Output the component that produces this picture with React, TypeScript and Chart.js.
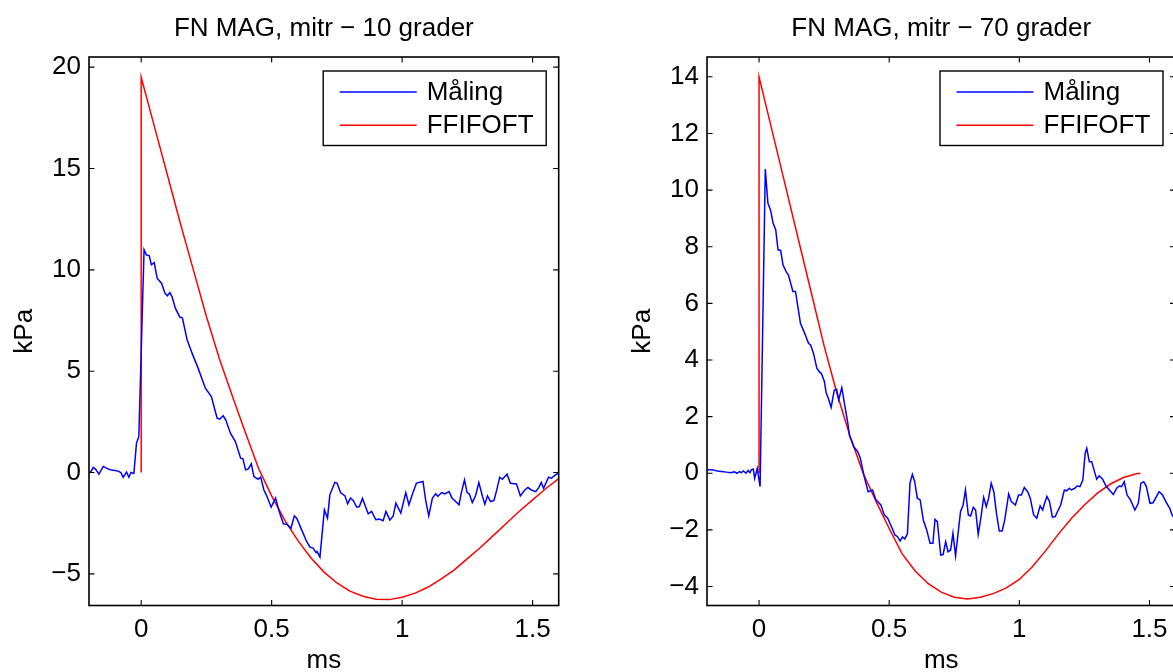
import React, { useEffect, useRef } from 'react';
import Chart from 'chart.js/auto';

const FONT = '"Liberation Sans", Arial, Helvetica, sans-serif';

// ---- 10 grader (left panel) ----
const meas10X = [
  -0.2, -0.19, -0.184, -0.175, -0.162, -0.145, -0.126, -0.114, -0.1, -0.088, -0.078, -0.069, -0.056, -0.047,
  -0.039, -0.028, -0.018, -0.009, 0.011, 0.02, 0.031, 0.039, 0.05, 0.061, 0.078, 0.091, 0.1, 0.11, 0.118,
  0.131, 0.148, 0.158, 0.176, 0.195, 0.218, 0.246, 0.269, 0.291, 0.301, 0.314, 0.324, 0.342, 0.361, 0.381,
  0.39, 0.4, 0.41, 0.422, 0.432, 0.448, 0.458, 0.47, 0.481, 0.498, 0.515, 0.529, 0.545, 0.56, 0.574, 0.587,
  0.596, 0.615, 0.634, 0.647, 0.659, 0.67, 0.674, 0.685, 0.702, 0.714, 0.723, 0.742, 0.751, 0.764, 0.781,
  0.791, 0.802, 0.813, 0.826, 0.836, 0.848, 0.87, 0.883, 0.899, 0.912, 0.927, 0.938, 0.953, 0.966, 0.976,
  0.995, 1.014, 1.026, 1.04, 1.055, 1.08, 1.09, 1.102, 1.116, 1.129, 1.137, 1.151, 1.163, 1.18, 1.191, 1.218,
  1.227, 1.239, 1.249, 1.257, 1.269, 1.282, 1.294, 1.308, 1.317, 1.327, 1.339, 1.352, 1.361, 1.374, 1.384,
  1.402, 1.415, 1.438, 1.453, 1.47, 1.482, 1.495, 1.512, 1.524, 1.533, 1.542, 1.561, 1.572, 1.584, 1.597, 1.6,
];
const meas10Y = [
  -0.05, 0.1, 0.25, 0.17, -0.08, 0.3, 0.17, 0.12, 0.1, 0.07, 0.0, -0.23, 0.02, -0.23,
  0.0, -0.05, 1.45, 1.78, 10.99, 10.74, 10.69, 10.25, 10.36, 9.59, 9.34, 8.85, 8.72, 8.88, 8.68,
  8.11, 7.67, 7.62, 6.55, 5.89, 5.15, 4.16, 3.75, 2.68, 2.63, 2.8, 2.6, 1.94, 1.53, 0.71,
  0.68, 0.13, 0.17, 0.43, -0.2, -0.33, -0.22, -0.85, -1.15, -1.71, -1.26, -1.92, -2.53, -2.57, -2.75, -2.14,
  -2.25, -2.83, -3.4, -3.68, -3.73, -3.95, -3.9, -4.17, -1.84, -2.25, -1.1, -0.49, -0.53, -0.99, -1.15,
  -1.54, -1.26, -1.39, -1.71, -1.68, -1.28, -2.04, -1.92, -2.33, -2.3, -2.38, -1.92, -2.35, -2.14, -1.51,
  -2.0, -0.99, -1.59, -1.05, -0.52, -0.44, -1.35, -2.14, -1.26, -1.05, -1.18, -0.99, -1.05, -0.94, -1.26, -1.59,
  -0.99, -0.36, -0.99, -1.05, -1.48, -1.12, -0.49, -1.18, -1.56, -1.15, -1.43, -1.38, -0.94, -0.23, -0.33,
  -0.08, -0.53, -0.56, -1.15, -0.86, -0.74, -0.86, -0.94, -0.73, -0.49, -0.78, -0.23, -0.28, -0.15, -0.03, 0.05,
];
const fit10X = [
  0, 0, 0.05, 0.1, 0.15, 0.2, 0.25, 0.3, 0.35, 0.4, 0.45, 0.5, 0.55, 0.6, 0.65, 0.7, 0.75, 0.8, 0.85, 0.9,
  0.95, 1.0, 1.05, 1.1, 1.15, 1.2, 1.25, 1.3, 1.35, 1.4, 1.45, 1.5, 1.55, 1.6,
];
const fit10Y = [
  0, 19.5, 17.1, 14.7, 12.3, 10.0, 7.7, 5.6, 3.75, 1.95, 0.2, -1.15, -2.35, -3.35, -4.2, -4.9, -5.45, -5.85,
  -6.1, -6.25, -6.27, -6.15, -5.95, -5.65, -5.25, -4.8, -4.25, -3.7, -3.1, -2.5, -1.9, -1.35, -0.8, -0.3,
];

// ---- 70 grader (right panel) ----
const meas70X = [
  -0.2, -0.18, -0.16, -0.144, -0.125, -0.11, -0.095, -0.085, -0.075, -0.068, -0.06, -0.05, -0.042, -0.035,
  -0.03, -0.022, -0.017, -0.007, 0.004, 0.024, 0.034, 0.044, 0.054, 0.064, 0.073, 0.083, 0.092, 0.104, 0.113,
  0.13, 0.14, 0.159, 0.175, 0.19, 0.198, 0.209, 0.222, 0.233, 0.239, 0.251, 0.258, 0.266, 0.277, 0.289, 0.298,
  0.306, 0.318, 0.328, 0.341, 0.347, 0.364, 0.379, 0.389, 0.404, 0.419, 0.436, 0.449, 0.468, 0.481, 0.494,
  0.509, 0.522, 0.532, 0.542, 0.551, 0.56, 0.57, 0.58, 0.589, 0.598, 0.608, 0.619, 0.631, 0.644, 0.657, 0.668,
  0.676, 0.685, 0.698, 0.707, 0.717, 0.726, 0.736, 0.745, 0.755, 0.774, 0.784, 0.793, 0.804, 0.813, 0.823,
  0.832, 0.842, 0.851, 0.863, 0.873, 0.882, 0.892, 0.902, 0.912, 0.923, 0.934, 0.944, 0.959, 0.969, 0.985,
  0.997, 1.008, 1.019, 1.032, 1.042, 1.055, 1.067, 1.08, 1.09, 1.095, 1.106, 1.116, 1.127, 1.138, 1.147, 1.159,
  1.173, 1.182, 1.192, 1.2, 1.213, 1.222, 1.233, 1.244, 1.253, 1.259, 1.269, 1.278, 1.287, 1.297, 1.307, 1.32,
  1.333, 1.346, 1.361, 1.374, 1.384, 1.393, 1.403, 1.414, 1.427, 1.444, 1.457, 1.467, 1.478, 1.488, 1.502,
  1.514, 1.537, 1.55, 1.565, 1.578, 1.587, 1.6,
];
const meas70Y = [
  0.12, 0.12, 0.08, 0.06, 0.04, 0.02, 0.05, 0.0, 0.06, 0.02, 0.08, 0.0, 0.1, 0.02,
  0.12, 0.15, -0.18, 0.17, -0.47, 10.74, 9.54, 9.3, 8.83, 8.6, 7.89, 7.87, 7.36, 7.12, 7.0,
  6.42, 6.42, 5.3, 4.95, 4.59, 4.53, 4.24, 3.71, 3.57, 3.53, 3.24, 2.83, 2.65, 2.33, 2.94, 2.97,
  2.59, 3.02, 2.47, 1.77, 1.35, 0.94, 0.76, 0.53, -0.12, -0.65, -0.59, -0.94, -1.12, -1.47, -1.59,
  -1.89, -2.18, -2.24, -2.39, -2.25, -2.32, -2.14, -0.35, -0.04, -0.3, -0.88, -0.94, -1.65, -2.0, -2.47, -2.47,
  -1.63, -1.71, -2.89, -2.87, -2.42, -2.77, -2.71, -2.12, -2.92, -1.36, -1.12, -0.59, -1.47, -1.51, -1.2,
  -1.3, -2.16, -1.65, -0.85, -1.18, -0.88, -0.35, -0.65, -1.41, -2.04, -2.04, -1.65, -0.73, -1.0, -1.12,
  -0.77, -0.77, -0.5, -0.65, -0.88, -1.47, -1.59, -1.15, -1.3, -1.12, -0.82, -1.0, -1.55, -1.53, -1.35, -1.12,
  -0.59, -0.62, -0.53, -0.59, -0.53, -0.45, -0.47, -0.24, 0.71, 0.88, 0.41, 0.41, 0.12, -0.21, -0.09, -0.21,
  -0.45, -0.59, -0.75, -0.53, -0.45, -0.47, -0.3, -0.77, -0.94, -1.3, -1.06, -0.35, -0.3, -0.47, -1.06,
  -1.04, -0.65, -0.77, -1.04, -1.24, -1.47, -1.65,
];
const fit70X = [
  0, 0, 0.05, 0.1, 0.15, 0.2, 0.25, 0.3, 0.35, 0.4, 0.45, 0.5, 0.55, 0.6, 0.65, 0.7, 0.75, 0.8, 0.85, 0.9,
  0.95, 1.0, 1.05, 1.1, 1.15, 1.2, 1.25, 1.3, 1.35, 1.4, 1.45, 1.465,
];
const fit70Y = [
  0, 14.0, 12.1, 10.2, 8.3, 6.4, 4.5, 2.8, 1.3, 0.0, -1.0, -1.95, -2.85, -3.45, -3.9, -4.2, -4.38, -4.44,
  -4.38, -4.25, -4.05, -3.75, -3.3, -2.75, -2.15, -1.6, -1.12, -0.7, -0.38, -0.15, -0.02, 0,
];

const seriesLabels = ['Måling', 'FFIFOFT'];
const xRange = [-0.2, 1.6];

const toPoints = (xs: number[], ys: number[]) => xs.map((x, i) => ({ x, y: ys[i] }));
const fmt = (v: number) => String(Math.round(v * 100) / 100).replace('-', '\u2212');

// MATLAB style box with inward ticks on all four sides
const frameTicks = {
  id: 'frameTicks',
  afterDatasetsDraw(chart: any) {
    const { ctx, chartArea: a, scales } = chart;
    const len = 5.5;
    ctx.save();
    ctx.strokeStyle = '#000';
    ctx.lineWidth = 1.1;
    ctx.beginPath();
    scales.x.ticks.forEach((t: any) => {
      const px = scales.x.getPixelForValue(t.value);
      ctx.moveTo(px, a.bottom);
      ctx.lineTo(px, a.bottom - len);
      ctx.moveTo(px, a.top);
      ctx.lineTo(px, a.top + len);
    });
    scales.y.ticks.forEach((t: any) => {
      const py = scales.y.getPixelForValue(t.value);
      ctx.moveTo(a.left, py);
      ctx.lineTo(a.left + len, py);
      ctx.moveTo(a.right, py);
      ctx.lineTo(a.right - len, py);
    });
    ctx.stroke();
    ctx.lineWidth = 1.6;
    ctx.strokeRect(a.left, a.top, a.right - a.left, a.bottom - a.top);
    ctx.restore();
  },
};

// boxed legend in the upper right corner of the plot area
const boxLegend = {
  id: 'boxLegend',
  afterDraw(chart: any) {
    const { ctx, chartArea: a } = chart;
    const w = 223;
    const h = 74.5;
    const left = a.right - 12.5 - w;
    const top = a.top + 14;
    ctx.save();
    ctx.fillStyle = '#fff';
    ctx.fillRect(left, top, w, h);
    ctx.strokeStyle = '#000';
    ctx.lineWidth = 1.4;
    ctx.strokeRect(left, top, w, h);
    ctx.font = `26px ${FONT}`;
    ctx.textBaseline = 'middle';
    chart.data.datasets.forEach((ds: any, i: number) => {
      const y = top + 21 + i * 33.3;
      ctx.strokeStyle = ds.borderColor;
      ctx.lineWidth = 1.4;
      ctx.beginPath();
      ctx.moveTo(left + 16.5, y);
      ctx.lineTo(left + 93.5, y);
      ctx.stroke();
      ctx.fillStyle = '#000';
      ctx.fillText(ds.label, left + 103.5, y + 1);
    });
    ctx.restore();
  },
};

interface PanelProps {
  left: number;
  padRight: number;
  title: string;
  measX: number[];
  measY: number[];
  fitX: number[];
  fitY: number[];
  yMin: number;
  yMax: number;
  yStep: number;
}

const Panel: React.FC<PanelProps> = ({ left, padRight, title, measX, measY, fitX, fitY, yMin, yMax, yStep }) => {
  const canvasRef = useRef<HTMLCanvasElement>(null);

  useEffect(() => {
    const canvas = canvasRef.current;
    if (!canvas) return;
    Chart.defaults.font.family = FONT;
    Chart.defaults.color = '#000';
    const chart = new Chart(canvas, {
      type: 'line',
      data: {
        datasets: [
          {
            label: seriesLabels[0],
            data: toPoints(measX, measY),
            borderColor: '#0000ff',
            borderWidth: 1.5,
            pointRadius: 0,
            tension: 0,
          },
          {
            label: seriesLabels[1],
            data: toPoints(fitX, fitY),
            borderColor: '#ff0000',
            borderWidth: 1.5,
            pointRadius: 0,
            tension: 0,
          },
        ],
      },
      options: {
        animation: false,
        responsive: false,
        events: [],
        layout: { padding: { left: 0, right: padRight, top: 0, bottom: 0 } },
        plugins: {
          legend: { display: false },
          tooltip: { enabled: false },
          title: {
            display: true,
            text: title,
            fullSize: false,
            color: '#000',
            font: { size: 26, weight: 'normal', lineHeight: 1.2 },
            padding: { top: 13.4, bottom: 12.4 },
          },
        },
        scales: {
          x: {
            type: 'linear',
            min: xRange[0],
            max: xRange[1],
            grid: { display: false, drawTicks: false },
            border: { display: false },
            ticks: {
              stepSize: 0.5,
              includeBounds: false,
              autoSkip: false,
              maxRotation: 0,
              padding: 9,
              color: '#000',
              font: { size: 26 },
              callback: (v: any) => fmt(Number(v)),
            },
            title: {
              display: true,
              text: 'ms',
              color: '#000',
              font: { size: 26, lineHeight: 1 },
              padding: { top: 0, bottom: -2 },
            },
            afterFit: (s: any) => {
              s.height = 66.5;
            },
          },
          y: {
            type: 'linear',
            min: yMin,
            max: yMax,
            grid: { display: false, drawTicks: false },
            border: { display: false },
            ticks: {
              stepSize: yStep,
              includeBounds: false,
              padding: 8,
              color: '#000',
              font: { size: 26 },
              callback: (v: any) => fmt(Number(v)),
            },
            title: {
              display: true,
              text: 'kPa',
              color: '#000',
              font: { size: 26, lineHeight: 1 },
              padding: { top: 12, bottom: 0 },
            },
            afterFit: (s: any) => {
              s.width = 89;
            },
          },
        },
      },
      plugins: [frameTicks, boxLegend],
    });
    return () => {
      chart.destroy();
    };
  }, [left, padRight, title, measX, measY, fitX, fitY, yMin, yMax, yStep]);

  return (
    <div style={{ position: 'absolute', left, top: 0, width: 580, height: 672 }}>
      <canvas ref={canvasRef} width={580} height={672} style={{ width: 580, height: 672 }}></canvas>
    </div>
  );
};

export default function App() {
  return (
    <div
      style={{
        position: 'fixed',
        left: 0,
        top: 0,
        width: 1173,
        height: 672,
        overflow: 'hidden',
        background: '#fff',
      }}
    >
      <Panel
        left={0}
        padRight={21.3}
        title={'FN MAG, mitr \u2212 10 grader'}
        measX={meas10X}
        measY={meas10Y}
        fitX={fit10X}
        fitY={fit10Y}
        yMin={-6.56}
        yMax={20.5}
        yStep={5}
      />
      <Panel
        left={618}
        padRight={22.5}
        title={'FN MAG, mitr \u2212 70 grader'}
        measX={meas70X}
        measY={meas70Y}
        fitX={fit70X}
        fitY={fit70Y}
        yMin={-4.67}
        yMax={14.7}
        yStep={2}
      />
    </div>
  );
}
